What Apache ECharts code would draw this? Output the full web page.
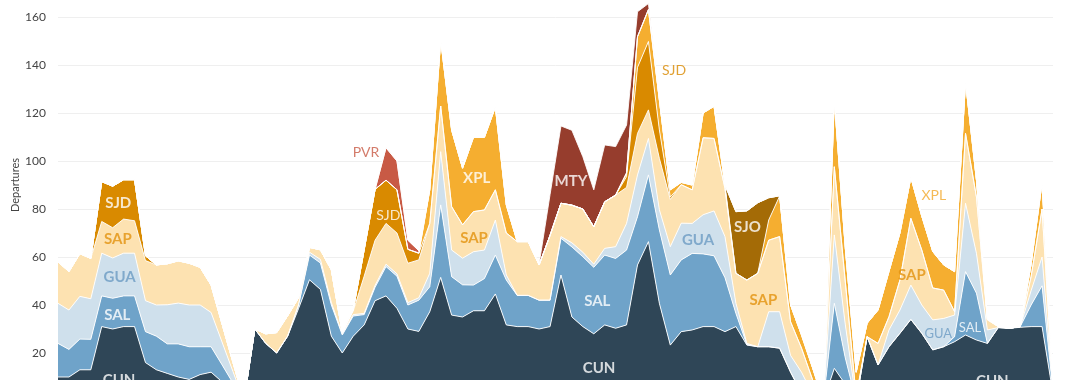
<!DOCTYPE html>
<html><head><meta charset="utf-8">
<script src="https://cdn.jsdelivr.net/npm/echarts@6/dist/echarts.min.js"></script>
<style>html,body{margin:0;padding:0;background:#fff;overflow:hidden;width:1080px;height:380px}#chart{position:absolute;left:0;top:-31px;width:1080px;height:432px}</style>
</head><body><div id="chart"></div>
<script>
const categories = ['W01','W02','W03','W04','W05','W06','W07','W08','W09','W10','W11','W12','W13','W14','W15','W16','W17','W18','W19','W20','W21','W22','W23','W24','W25','W26','W27','W28','W29','W30','W31','W32','W33','W34','W35','W36','W37','W38','W39','W40','W41','W42','W43','W44','W45','W46','W47','W48','W49','W50','W51','W52','W53','W54','W55','W56','W57','W58','W59','W60','W61','W62','W63','W64','W65','W66','W67','W68','W69','W70','W71','W72','W73','W74','W75','W76','W77','W78','W79','W80','W81','W82','W83','W84','W85','W86','W87','W88','W89','W90','W91','W92'];

const CUN = [10,10,13,13,31,30,31,31,16,13, 11.5,10,9,11,12,8,4,0,30,24, 20,27,38.5,50.5,46.5,27,20,27,31.7,41.8, 43.8,38.6,30,29,37.2,51.5,35.8,35,37.6,37.6, 44.6,31.7,31,31,30,31,52.5,35,31,28, 31.7,30.3,31.7,56.7,66.4,40.7,23.3,28.9,29.6,31, 31,28.9,31,23.3,22.6,22.6,22,12,3,0, 0,13.6,7,0,26.8,15,22.6,28.2,34,28.2, 21.3,22.6,24.7,27.5,25.4,24,30.6,30.3,30.7,31, 31,3];
const SAL = [14,11.5,12.8,12.7,12.8,12.8,12.8,12.8,12.9,14, 12.3,13.8,13.6,11.6,10.6,7.1,3.5,0,0,0, 0,0,1.5,10.3,11,13,7.5,8.4,4.3,5.6, 12.2,13.4,10,13,10.4,30.2,16,13.4,10.7,13.4, 16.2,18.7,13,13,12,11,15.3,29.2,29.1,27.7, 29.1,29.1,31.2,20.1,27.8,30.6,29.2,29.9,31.9,30.3, 29.5,22.5,5.5,0.2,0,0,0,0,0.5,0, 0,27.1,11,0,0,0,0,0,0,0, 0,0,2.1,26.4,19.5,0,0,0,0.3,9, 17,1];
const GUA = [16.7,16.4,17.8,16.9,17.8,16.8,17.8,17.8,12.9,13, 16.3,17,17.4,17.4,14.3,9.5,4.8,0,0,0, 0,0,0,1.2,1.5,1,0.5,0.6,0.5,0.8, 1,1,1,1,5.6,22.2,11.1,11.1,13.9,11.9, 14.6,2.1,0,0,0,0,0.7,1.7,1.9,1.3, 2.8,4.9,11.1,17.4,15.2,8.4,11.8,15.3,12.5,16.3, 18.7,17.1,4.2,0.5,0,14.6,15.2,7,8.5,3, 0,28.5,14,0,0,0,7,9.7,14.3,11.8, 12.5,11.8,9,28.5,16.6,5.6,0,0,0,6, 12,0.5];
const SAP = [17.3,16,17.8,16.8,13.2,12.6,14.2,13.5,16.7,16.7, 17.1,17.6,17.4,15.7,11.4,7.6,3.8,0,0,4, 8.5,8.5,3,2,4,13.6,0.5,1.5,15.5,18.8, 17,17,16.4,15.8,20.8,19,18.1,13.9,16.7,16.7, 12.6,17.5,22.4,22.4,14.7,27,13.9,15.7,18,15.6, 19.4,21.5,15,17.3,11.9,21.4,19.7,16,14,32.1, 30.2,20.1,12.5,26.4,30.6,29.8,31.3,14,10,6, 0,28.4,18,2,0,9,5.5,12.5,27.8,22.9, 13.3,11.8,1.4,29.1,23.5,4.2,0.4,0,0,6, 20,0.5];
const SJD = [0,0,0,0,16.6,17.3,16.4,17.1,2,0, 0,0,0,0,0,0,0,0,0,0, 0,0,0,0,0,0,0,0.5,11,21.2, 18,18,5.8,2.8,0,0,0,0,0,0, 0,0,0,0,0,0,0,0,0,0, 0,0,4.5,27.5,28.5,11.9,1,0,0,0, 0,0,0,0,0,0,0,0,0,0, 0,0,0,0,0,0,0,0,0,0, 0,0,0,0,0,0,0,0,0,0, 0,0];
const XPL = [0,0,0,0,0,0,0,0,0,0, 0,0,0,0,0,0,0,0,0,0, 0,0,0,0,0,0,0,0,0,0, 0,0,0,0,14,27.5,31.9,23.6,31,30.3, 34.5,11.7,0,0,0,0,0,0,0,0, 0,0,1.5,12.8,13.3,12.5,3,1,2,10.3, 13.4,1.4,0,0,0,8.4,16.9,7,5.5,5, 0,28,14,10,5.6,13.9,18.9,19.6,17,14.1, 15.2,10.5,16.7,21.5,7,0.3,0,0,0,5, 11,0.5];
const SJO = [0,0,0,0,0,0,0,0,0,0, 0,0,0,0,0,0,0,0,0,0, 0,0,0,0,0,0,0,0,0,0, 0,0,0,0,0,0,0,0,0,0, 0,0,0,0,0,0,0,0,0,0, 0,0,0,0,0,0,0,0,0,0, 0,0,25.7,28.8,29.4,9.3,0.1,0,0,0, 0,0,0,0,0,0,0,0,0,0, 0,0,0,0,0,0,0,0,0,0, 0,0];
const PVR = [0,0,0,0,0,0,0,0,0,0, 0,0,0,0,0,0,0,0,0,0, 0,0,0,0,0,0,0,0,0,0, 13.5,12,3.8,1,0,0,0,0,0,0, 0,0,0,0,0,0,0,0,0,0, 0,0,0,0,0,0,0,0,0,0, 0,0,0,0,0,0,0,0,0,0, 0,0,0,0,0,0,0,0,0,0, 0,0,0,0,0,0,0,0,0,0, 0,0];
const MTY = [0,0,0,0,0,0,0,0,0,0, 0,0,0,0,0,0,0,0,0,0, 0,0,0,0,0,0,0,0,0,0, 0,0,0,0,0,0,0,0,0,0, 0,0,0,0,0.3,17,32.2,31.2,21.8,15.4, 23.7,20.2,20,10.4,2.5,0,0,0,0,0, 0,0,0,0,0,0,0,0,0,0, 0,0,0,0,0,0,0,0,0,0, 0,0,0,0,0,0,0,0,0,0, 0,0];

const yTicks = [0, 180, 20];

// [text, x position (category index), y value, style]
const labels = [
  ['CUN', 5.58, 8.5, 'w'], ['SAL', 5.42, 35.8, 'w'], ['GUA', 5.64, 51.7, 'g'], ['SAP', 5.47, 67.4, 'o'], ['SJD', 5.51, 82.5, 'w'],
  ['PVR', 28.17, 103.5, 'r'], ['SJD', 30.21, 77.5, 'wn'], ['XPL', 38.29, 92.9, 'w'], ['SAP', 38.05, 67.9, 'o'],
  ['MTY', 46.92, 91.5, 'w'], ['SAL', 49.32, 41.7, 'w'], ['CUN', 49.48, 13.5, 'w'], ['SJD', 56.34, 137.9, 'jn'],
  ['GUA', 58.53, 67.1, 'g'], ['SJO', 63.06, 72.5, 'w'], ['SAP', 64.51, 42.1, 'o'], ['SAP', 78.1, 52.3, 'o'],
  ['XPL', 80.1, 85.6, 'xn'], ['GUA', 80.51, 27.9, 'gs'], ['SAL', 83.41, 30.5, 'ws'], ['CUN', 85.45, 8.1, 'w']
];

const seriesDefs = [
  ['CUN', CUN, '#2f4657'], ['SAL', SAL, '#6fa3c9'], ['GUA', GUA, '#cfe0ec'], ['SAP', SAP, '#fde2b1'],
  ['SJD', SJD, '#d98a00'], ['XPL', XPL, '#f5ae30'], ['SJO', SJO, '#a46b06'], ['PVR', PVR, '#c85a45'], ['MTY', MTY, '#963d2d']
];

const styles = {
  w:  {color:'#ffffff', fontSize:15, fontWeight:'bold'},
  wn: {color:'#ffffff', fontSize:14, fontWeight:'normal'},
  ws: {color:'#ffffff', fontSize:13, fontWeight:'normal'},
  g:  {color:'#6b9bc3', fontSize:15, fontWeight:'bold'},
  gs: {color:'#6b9bc3', fontSize:13, fontWeight:'normal'},
  o:  {color:'#e2920e', fontSize:15, fontWeight:'bold'},
  r:  {color:'#c85a45', fontSize:14, fontWeight:'normal'},
  jn: {color:'#d98a00', fontSize:14, fontWeight:'normal'},
  xn: {color:'#f2a92c', fontSize:14, fontWeight:'normal'}
};

const chart = echarts.init(document.getElementById('chart'), null, {renderer:'canvas'});
const series = seriesDefs.map(([name, data, color]) => ({
  name, type:'line', stack:'total', data, symbol:'none', showSymbol:false,
  lineStyle:{color:'#ffffff', width:0.9}, areaStyle:{color, opacity:1}, itemStyle:{color},
  emphasis:{disabled:true}, silent:true
}));
series.push({
  type:'scatter', xAxisIndex:1, yAxisIndex:0, symbolSize:0, z:20, silent:true,
  data: labels.map(([t, x, y, s]) => ({
    name:t, value:[x, y],
    label:Object.assign({show:true, position:'inside', formatter:'{b}', fontFamily:'Lato'}, styles[s])
  }))
});

chart.setOption({
  animation:false,
  backgroundColor:'#ffffff',
  grid:{left:58, right:27, top:0, bottom:0, containLabel:false, outerBoundsMode:'none'},
  xAxis:[
    {type:'category', data:categories, boundaryGap:false, axisLine:{show:false}, axisTick:{show:false}, axisLabel:{show:false}, splitLine:{show:false}},
    {type:'value', min:0, max:categories.length-1, show:false}
  ],
  yAxis:{
    type:'value', min:yTicks[0], max:yTicks[1], interval:yTicks[2],
    name:'Departures', nameLocation:'middle', nameGap:37, nameMoveOverlap:false,
    nameTextStyle:{fontFamily:'Lato', fontSize:11, color:'#444'},
    axisLabel:{fontFamily:'Lato', fontSize:12, color:'#444', margin:12},
    axisLine:{show:false}, axisTick:{show:false},
    splitLine:{lineStyle:{color:'#efefef', width:1}}
  },
  series
});
</script>
</body></html>
